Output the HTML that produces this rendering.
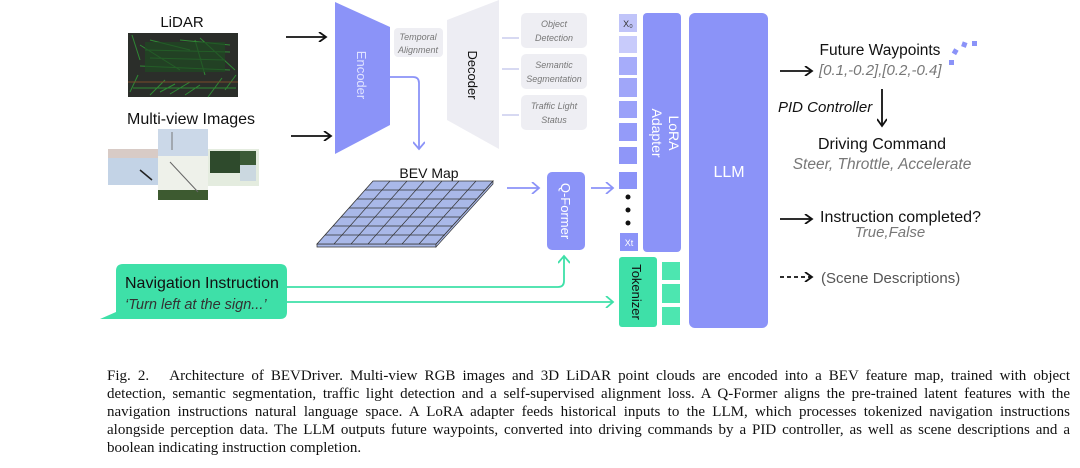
<!DOCTYPE html>
<html><head><meta charset="utf-8">
<style>
html,body{margin:0;padding:0;background:#fff;width:1080px;height:468px;overflow:hidden}
svg{position:absolute;left:0;top:0}
.cap{position:absolute;left:107px;width:963px;font-family:"Liberation Serif",serif;font-size:15px;color:#111;line-height:18px}
.cap div{text-align:justify;text-align-last:justify;white-space:nowrap}
.cap div.l{text-align-last:left}
</style></head><body>
<svg width="1080" height="350" viewBox="0 0 1080 350" font-family="Liberation Sans, sans-serif">
<defs>
<marker id="ab" markerWidth="10" markerHeight="10" refX="8" refY="5" orient="auto" markerUnits="userSpaceOnUse"><path d="M1,0 L8,5 L1,10" fill="none" stroke="#111" stroke-width="1.8"/></marker>
<marker id="abl" markerWidth="10" markerHeight="12" refX="8" refY="6" orient="auto" markerUnits="userSpaceOnUse"><path d="M1,0 L8,6 L1,12" fill="none" stroke="#8b93f8" stroke-width="1.8"/></marker>
<marker id="ag" markerWidth="10" markerHeight="12" refX="8" refY="6" orient="auto" markerUnits="userSpaceOnUse"><path d="M1,0 L8,6 L1,12" fill="none" stroke="#3ee0a8" stroke-width="1.8"/></marker>
</defs>
<!-- LiDAR -->
<text x="182" y="27" font-size="15" text-anchor="middle" fill="#111">LiDAR</text>
<rect x="128" y="33" width="110" height="64" fill="#2b2e2a"/>
<g stroke="#2f9a36" stroke-width="1" opacity="0.85">
<path d="M132,35 L140,60 M150,40 L190,50 M200,38 L235,70 M130,92 L138,75 M150,95 L165,80 M170,94 L190,82 M208,97 L222,78 M225,90 L236,75 M140,45 L180,70 M180,40 L230,45 M145,50 L230,52 M150,58 L225,60 M140,66 L230,70 M133,88 L236,88 M160,92 L175,84 M185,95 L200,85 M195,40 L205,75"/>
</g>
<g fill="#1f4a22" opacity="0.7"><rect x="145" y="42" width="80" height="30"/></g>
<line x1="128" y1="82" x2="238" y2="82" stroke="#7a4a2a" stroke-width="1"/>
<!-- multi-view -->
<text x="191" y="124" font-size="16" text-anchor="middle" fill="#111">Multi-view Images</text>
<rect x="108" y="149" width="50" height="36" fill="#c3d3e6"/><rect x="108" y="149" width="50" height="9" fill="#d8cbc6"/>
<line x1="140" y1="170" x2="152" y2="180" stroke="#222" stroke-width="1.5"/>
<rect x="158" y="129" width="50" height="27" fill="#cbd8e8"/><line x1="172" y1="132" x2="172" y2="150" stroke="#777"/>
<rect x="158" y="156" width="50" height="44" fill="#eef1ea"/><rect x="158" y="190" width="50" height="10" fill="#3d5a30"/>
<line x1="170" y1="162" x2="198" y2="192" stroke="#666" stroke-width="1"/>
<rect x="208" y="149" width="51" height="37" fill="#e4ecdf"/><rect x="210" y="151" width="30" height="22" fill="#2e4a2c"/><rect x="240" y="151" width="16" height="14" fill="#3b5a36"/><rect x="240" y="165" width="16" height="16" fill="#cbd8e0"/>
<!-- input arrows -->
<line x1="286" y1="37" x2="326" y2="37" stroke="#111" stroke-width="1.8" marker-end="url(#ab)"/>
<line x1="291" y1="136" x2="331" y2="136" stroke="#111" stroke-width="1.8" marker-end="url(#ab)"/>
<!-- encoder -->
<polygon points="335,2 390,27 390,125 335,154" fill="#8b93f8"/>
<text transform="translate(357,75) rotate(90)" font-size="13" fill="#dfe2ff" text-anchor="middle">Encoder</text>
<rect x="394" y="28" width="49" height="29" rx="4" fill="#eeeef3"/>
<text x="418" y="40" font-size="9" font-style="italic" fill="#777" text-anchor="middle">Temporal</text>
<text x="418" y="53" font-size="9" font-style="italic" fill="#777" text-anchor="middle">Alignment</text>
<!-- decoder -->
<polygon points="447,20 499,0 499,149 447,120" fill="#ededf3"/>
<text transform="translate(468,75) rotate(90)" font-size="13" fill="#111" text-anchor="middle">Decoder</text>
<g stroke="#d7d9f2" stroke-width="2"><line x1="502" y1="38" x2="519" y2="38"/><line x1="502" y1="69" x2="519" y2="69"/><line x1="502" y1="115" x2="519" y2="115"/></g>
<g fill="#eeeef3"><rect x="521" y="13" width="66" height="35" rx="5"/><rect x="521" y="54" width="66" height="35" rx="5"/><rect x="521" y="95" width="66" height="35" rx="5"/></g>
<g font-size="9" font-style="italic" fill="#777" text-anchor="middle">
<text x="554" y="27">Object</text><text x="554" y="41">Detection</text>
<text x="554" y="68">Semantic</text><text x="554" y="82">Segmentation</text>
<text x="554" y="109">Traffic Light</text><text x="554" y="123">Status</text></g>
<!-- encoder to BEV -->
<path d="M390,77 L413,77 Q419,77 419,83 L419,149" fill="none" stroke="#8b93f8" stroke-width="1.8" marker-end="url(#abl)"/>
<text x="429" y="178" font-size="14" text-anchor="middle" fill="#111">BEV Map</text>
<!-- BEV grid -->
<polygon points="317,244 436,244 436,247 317,247" fill="#a9b8e8" stroke="#333" stroke-width="0.7"/>
<polygon points="436,244 493,181 493,184 436,247" fill="#a9b8e8" stroke="#333" stroke-width="0.7"/>
<polygon points="373,181 493,181 436,244 317,244" fill="#a9b8e8" stroke="#333" stroke-width="0.8"/>
<g stroke="#333" stroke-width="0.7" fill="none">
<line x1="390" y1="181" x2="334" y2="244"/><line x1="407" y1="181" x2="351" y2="244"/><line x1="424" y1="181" x2="368" y2="244"/><line x1="442" y1="181" x2="385" y2="244"/><line x1="459" y1="181" x2="402" y2="244"/><line x1="476" y1="181" x2="419" y2="244"/>
<line x1="365" y1="190" x2="485" y2="190"/><line x1="357" y1="199" x2="477" y2="199"/><line x1="349" y1="208" x2="469" y2="208"/><line x1="341" y1="217" x2="461" y2="217"/><line x1="333" y1="226" x2="453" y2="226"/><line x1="325" y1="235" x2="445" y2="235"/>
</g>
<line x1="507" y1="188" x2="539" y2="188" stroke="#8b93f8" stroke-width="1.8" marker-end="url(#abl)"/>
<!-- Q-Former -->
<rect x="547" y="172" width="38" height="78" rx="5" fill="#8b93f8"/>
<text transform="translate(561,211) rotate(90)" font-size="13" fill="#fff" text-anchor="middle">Q-Former</text>
<line x1="591" y1="188" x2="613" y2="188" stroke="#8b93f8" stroke-width="1.8" marker-end="url(#abl)"/>
<!-- tokens -->
<rect x="619" y="14" width="18" height="18" fill="#c0c4f9"/><text x="628" y="27" font-size="9" text-anchor="middle" fill="#333">X₀</text>
<rect x="619" y="36" width="18" height="17" fill="#c8cbfb"/>
<rect x="619" y="57" width="18" height="18" fill="#a6acfa"/>
<rect x="619" y="78" width="18" height="19" fill="#a0a6f9"/>
<rect x="619" y="101" width="18" height="17" fill="#9aa1f9"/>
<rect x="619" y="123" width="18" height="18" fill="#949bf9"/>
<rect x="619" y="147" width="18" height="17" fill="#8f96f8"/>
<rect x="619" y="172" width="18" height="17" fill="#8b93f8"/>
<circle cx="628" cy="197" r="2.5" fill="#111"/><circle cx="628" cy="210" r="2.5" fill="#111"/><circle cx="628" cy="223" r="2.5" fill="#111"/>
<rect x="620" y="233" width="18" height="18" fill="#8b93f8"/><text x="629" y="246" font-size="9" text-anchor="middle" fill="#fff">Xt</text>
<rect x="643" y="13" width="38" height="239" rx="4" fill="#8b93f8"/>
<text transform="translate(669,133) rotate(90)" font-size="14" fill="#fff" text-anchor="middle">LoRA</text>
<text transform="translate(652,133) rotate(90)" font-size="14" fill="#fff" text-anchor="middle">Adapter</text>
<rect x="689" y="13" width="79" height="315" rx="6" fill="#8b93f8"/>
<text x="729" y="177" font-size="16" fill="#fff" text-anchor="middle">LLM</text>
<!-- tokenizer -->
<rect x="619" y="257" width="38" height="70" rx="3" fill="#3ee0a8"/>
<text transform="translate(632,292) rotate(90)" font-size="13" fill="#111" text-anchor="middle">Tokenizer</text>
<rect x="662" y="262" width="18" height="18" fill="#4de6b0"/><rect x="662" y="284" width="18" height="19" fill="#4de6b0"/><rect x="662" y="307" width="18" height="18" fill="#4de6b0"/>
<!-- navigation -->
<path d="M123,264 L280,264 Q287,264 287,271 L287,312 Q287,319 280,319 L100,319 L116,312 L116,271 Q116,264 123,264 Z" fill="#3ee0a8"/>
<text x="125" y="288" font-size="16" fill="#111">Navigation Instruction</text>
<text x="125" y="309" font-size="14.5" font-style="italic" fill="#333">‘Turn left at the sign...’</text>
<path d="M287,287 L558,287 Q564,287 564,281 L564,256" fill="none" stroke="#3ee0a8" stroke-width="1.8" marker-end="url(#ag)"/>
<line x1="287" y1="302" x2="613" y2="302" stroke="#3ee0a8" stroke-width="1.8" marker-end="url(#ag)"/>
<!-- outputs -->
<line x1="780" y1="71" x2="812" y2="71" stroke="#111" stroke-width="1.8" marker-end="url(#ab)"/>
<text x="880" y="55" font-size="15.5" fill="#111" text-anchor="middle">Future Waypoints</text>
<text x="819" y="75" font-size="15" font-style="italic" fill="#777">[0.1,-0.2],[0.2,-0.4]</text>
<g fill="#8b93f8"><rect x="949" y="60" width="5" height="5"/><rect x="953" y="49" width="5" height="5" transform="rotate(30 955 51)"/><rect x="962" y="42" width="5" height="5" transform="rotate(20 964 44)"/><rect x="972" y="41" width="5" height="5"/></g>
<text x="778" y="112" font-size="15" font-style="italic" fill="#111">PID Controller</text>
<line x1="882" y1="89" x2="882" y2="126" stroke="#111" stroke-width="1.8" marker-end="url(#ab)"/>
<text x="882" y="149" font-size="16" fill="#111" text-anchor="middle">Driving Command</text>
<text x="882" y="169" font-size="15.5" font-style="italic" fill="#777" text-anchor="middle">Steer, Throttle, Accelerate</text>
<line x1="780" y1="219" x2="812" y2="219" stroke="#111" stroke-width="1.8" marker-end="url(#ab)"/>
<text x="820" y="222" font-size="16" fill="#111">Instruction completed?</text>
<text x="890" y="237" font-size="15" font-style="italic" fill="#777" text-anchor="middle">True,False</text>
<line x1="780" y1="277" x2="812" y2="277" stroke="#111" stroke-width="1.8" stroke-dasharray="4,3" marker-end="url(#ab)"/>
<text x="821" y="283" font-size="15" fill="#555">(Scene Descriptions)</text>
</svg>
<div class="cap" style="top:367px">
<div><span style="margin-right:14px">Fig. 2.</span> Architecture of BEVDriver. Multi-view RGB images and 3D LiDAR point clouds are encoded into a BEV feature map, trained with object</div>
<div>detection, semantic segmentation, traffic light detection and a self-supervised alignment loss. A Q-Former aligns the pre-trained latent features with the</div>
<div>navigation instructions natural language space. A LoRA adapter feeds historical inputs to the LLM, which processes tokenized navigation instructions</div>
<div>alongside perception data. The LLM outputs future waypoints, converted into driving commands by a PID controller, as well as scene descriptions and a</div>
<div class="l">boolean indicating instruction completion.</div>
</div>
</body></html>
